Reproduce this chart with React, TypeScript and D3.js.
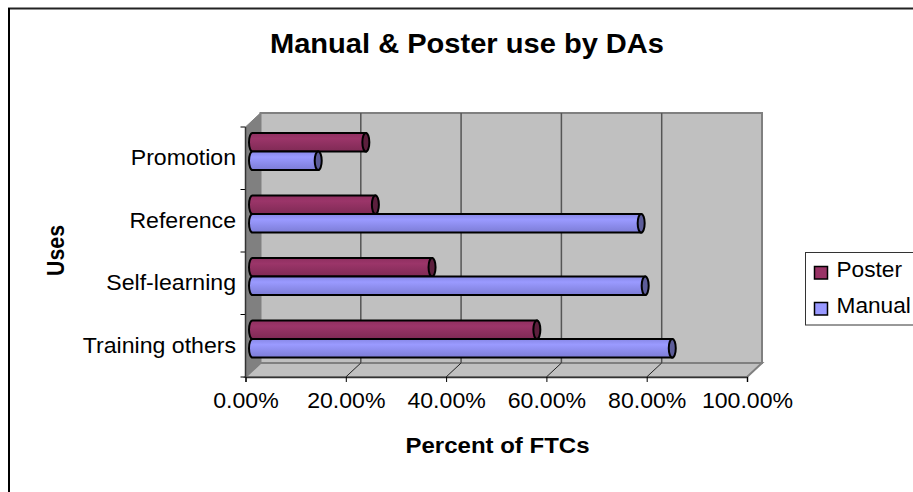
import React, { useRef, useEffect } from "react";
import * as d3 from "d3";

const categories = ["Promotion", "Reference", "Self-learning", "Training others"];
const seriesNames = ["Poster", "Manual"];
const posterValues = [23.3, 25.2, 36.5, 57.4];
const manualValues = [13.8, 78.2, 79, 84.4];
const xTicks = [0, 20, 40, 60, 80, 100];

const seriesValues = [posterValues, manualValues];
const seriesFill = ["#993366", "#9999ff"];
const seriesTop = ["#8f2f60", "#8787e6"];
const seriesMid = ["#9b3569", "#9a9aff"];
const seriesBottom = ["#7f2a55", "#7c7cd6"];
const seriesCap = ["#5c1f3d", "#5c5c99"];

const FONT = "'Liberation Sans', Arial, sans-serif";

// the original text is wider than the font's natural width
function stretch(sel: any, factor: number) {
  sel.each(function (this: SVGTextElement) {
    const len = this.getComputedTextLength();
    this.setAttribute("textLength", String(len * factor));
    this.setAttribute("lengthAdjust", "spacingAndGlyphs");
  });
}

function App() {
  const canvas = useRef<SVGSVGElement | null>(null);

  function drawChart() {
    const svg = d3.select(canvas.current);
    svg.selectAll("*").remove();
    svg.attr("width", 913).attr("height", 492);

    const x = d3.scaleLinear().domain([0, 100]).range([245.5, 747]);
    const y = d3.scaleBand().domain(categories).range([127, 377]);
    const inner = d3
      .scaleBand()
      .domain(seriesNames)
      .range([6, 43]);
    const depthX = 15;
    const depthY = -14;
    const barShift = 3.5;
    const capRx = 3.5;

    const defs = svg.append("defs");
    seriesNames.forEach((name, i) => {
      const grad = defs
        .append("linearGradient")
        .attr("id", `grad-${name}`)
        .attr("x1", 0)
        .attr("y1", 0)
        .attr("x2", 0)
        .attr("y2", 1);
      grad.append("stop").attr("offset", "0%").attr("stop-color", seriesTop[i]);
      grad.append("stop").attr("offset", "30%").attr("stop-color", seriesMid[i]);
      grad.append("stop").attr("offset", "100%").attr("stop-color", seriesBottom[i]);
    });

    // chart frame, only top and left show
    svg.append("line").attr("x1", 8).attr("x2", 913).attr("y1", 8.5).attr("y2", 8.5)
      .attr("stroke", "#222").attr("stroke-width", 2);
    svg.append("line").attr("x1", 9).attr("x2", 9).attr("y1", 8).attr("y2", 492)
      .attr("stroke", "#000").attr("stroke-width", 2);

    // back wall, floor, side wall
    const x0 = x(0);
    const x1 = x(100);
    const yTop = y.range()[0];
    const yBot = y.range()[1];
    const pts = (a: number[][]) => a.map((p) => p.join(",")).join(" ");

    svg.append("polygon")
      .attr("points", pts([[x0 + depthX, yTop + depthY], [x1 + depthX, yTop + depthY], [x1 + depthX, yBot + depthY], [x0 + depthX, yBot + depthY]]))
      .attr("fill", "#c0c0c0").attr("stroke", "#808080").attr("stroke-width", 2);
    svg.append("polygon")
      .attr("points", pts([[x0, yBot], [x1, yBot], [x1 + depthX, yBot + depthY], [x0 + depthX, yBot + depthY]]))
      .attr("fill", "#c0c0c0").attr("stroke", "#808080").attr("stroke-width", 2);
    svg.append("polygon")
      .attr("points", pts([[x0, yTop], [x0 + depthX, yTop + depthY], [x0 + depthX, yBot + depthY], [x0, yBot]]))
      .attr("fill", "#808080").attr("stroke", "#808080").attr("stroke-width", 1);

    // gridlines on the wall and their floor links
    xTicks.slice(1, -1).forEach((t) => {
      svg.append("line")
        .attr("x1", x(t) + depthX).attr("x2", x(t) + depthX)
        .attr("y1", yTop + depthY).attr("y2", yBot + depthY)
        .attr("stroke", "#555").attr("stroke-width", 1.5);
    });
    xTicks.slice(0, -1).forEach((t) => {
      svg.append("line")
        .attr("x1", x(t)).attr("x2", x(t) + depthX)
        .attr("y1", yBot).attr("y2", yBot + depthY)
        .attr("stroke", t === 0 ? "#808080" : "#222").attr("stroke-width", 1);
    });

    // bars as cylinders
    categories.forEach((cat, c) => {
      seriesNames.forEach((name, s) => {
        const top = (y(cat) as number) + (inner(name) as number);
        const h = inner.bandwidth();
        const ry = h / 2;
        const left = x(0) + barShift;
        const right = x(seriesValues[s][c]) + barShift;
        const g = svg.append("g");
        g.append("path")
          .attr("d", `M${right},${top} L${left + capRx},${top} A${capRx},${ry} 0 0 0 ${left + capRx},${top + h} L${right},${top + h} Z`)
          .attr("fill", `url(#grad-${name})`)
          .attr("stroke", "#000")
          .attr("stroke-width", 2);
        g.append("ellipse")
          .attr("cx", right).attr("cy", top + ry)
          .attr("rx", capRx).attr("ry", ry)
          .attr("fill", seriesCap[s])
          .attr("stroke", "#000")
          .attr("stroke-width", 2);
      });
    });

    // axes
    const xAxis = svg.append("g")
      .attr("transform", `translate(0,${yBot})`)
      .call(
        d3.axisBottom(x)
          .tickValues(xTicks)
          .tickSize(5)
          .tickPadding(10.5)
          .tickFormat((d) => `${(d as number).toFixed(2)}%`)
      );
    xAxis.select(".domain").attr("stroke", "#333").attr("stroke-width", 1.5);
    xAxis.selectAll("line").attr("stroke", "#000");
    const xLabels = xAxis.selectAll("text").attr("fill", "#000").style("font-family", FONT).style("font-size", "22px");
    stretch(xLabels, 1.05);

    const yAxis = svg.append("g")
      .attr("transform", `translate(${x0},0)`)
      .call(d3.axisLeft(y).tickSize(0).tickPadding(9.5));
    yAxis.select(".domain").remove();
    const yLabels = yAxis.selectAll("text").attr("fill", "#000").style("font-family", FONT).style("font-size", "22px");
    stretch(yLabels, 1.05);

    // category ticks sit on the band edges
    const edges = categories.map((c) => y(c) as number).concat([yBot]);
    edges.forEach((e) => {
      svg.append("line").attr("x1", x0 - 5).attr("x2", x0).attr("y1", e).attr("y2", e).attr("stroke", "#000");
    });
    svg.append("line").attr("x1", x0).attr("x2", x0).attr("y1", yTop).attr("y2", yBot).attr("stroke", "#333").attr("stroke-width", 1.5);

    // titles
    svg.append("text").attr("x", 467).attr("y", 53).attr("text-anchor", "middle")
      .attr("textLength", 394).attr("lengthAdjust", "spacingAndGlyphs")
      .style("font-family", FONT).style("font-size", "28px").style("font-weight", "bold")
      .text("Manual & Poster use by DAs");
    svg.append("text").attr("x", 497.5).attr("y", 453).attr("text-anchor", "middle")
      .attr("textLength", 184).attr("lengthAdjust", "spacingAndGlyphs")
      .style("font-family", FONT).style("font-size", "22px").style("font-weight", "bold")
      .text("Percent of FTCs");
    svg.append("text").attr("transform", "translate(64,250.5) rotate(-90)").attr("text-anchor", "middle")
      .attr("textLength", 51).attr("lengthAdjust", "spacingAndGlyphs")
      .style("font-family", FONT).style("font-size", "23px").style("font-weight", "bold")
      .text("Uses");

    // legend, runs off the right edge
    const legend = svg.append("g");
    legend.append("rect").attr("x", 805.5).attr("y", 252.5).attr("width", 130).attr("height", 72.5)
      .attr("fill", "#fff").attr("stroke", "#333").attr("stroke-width", 1);
    const legendY = d3.scalePoint().domain(seriesNames).range([272.5, 308.5]);
    seriesNames.forEach((name, i) => {
      const cy = legendY(name) as number;
      legend.append("rect").attr("x", 814.5).attr("y", cy - 6).attr("width", 13).attr("height", 12.5)
        .attr("fill", seriesFill[i]).attr("stroke", "#000").attr("stroke-width", 1.5);
      const label = legend.append("text").attr("x", 836.5).attr("y", cy + 4.5)
        .style("font-family", FONT).style("font-size", "22px")
        .text(name);
      stretch(label, 1.03);
    });
  }

  useEffect(() => {
    drawChart();
  }, []);

  return (
    <svg
      ref={canvas}
      style={{ position: "absolute", left: 0, top: 0, display: "block", background: "#fff" }}
    ></svg>
  );
}

export default App;
